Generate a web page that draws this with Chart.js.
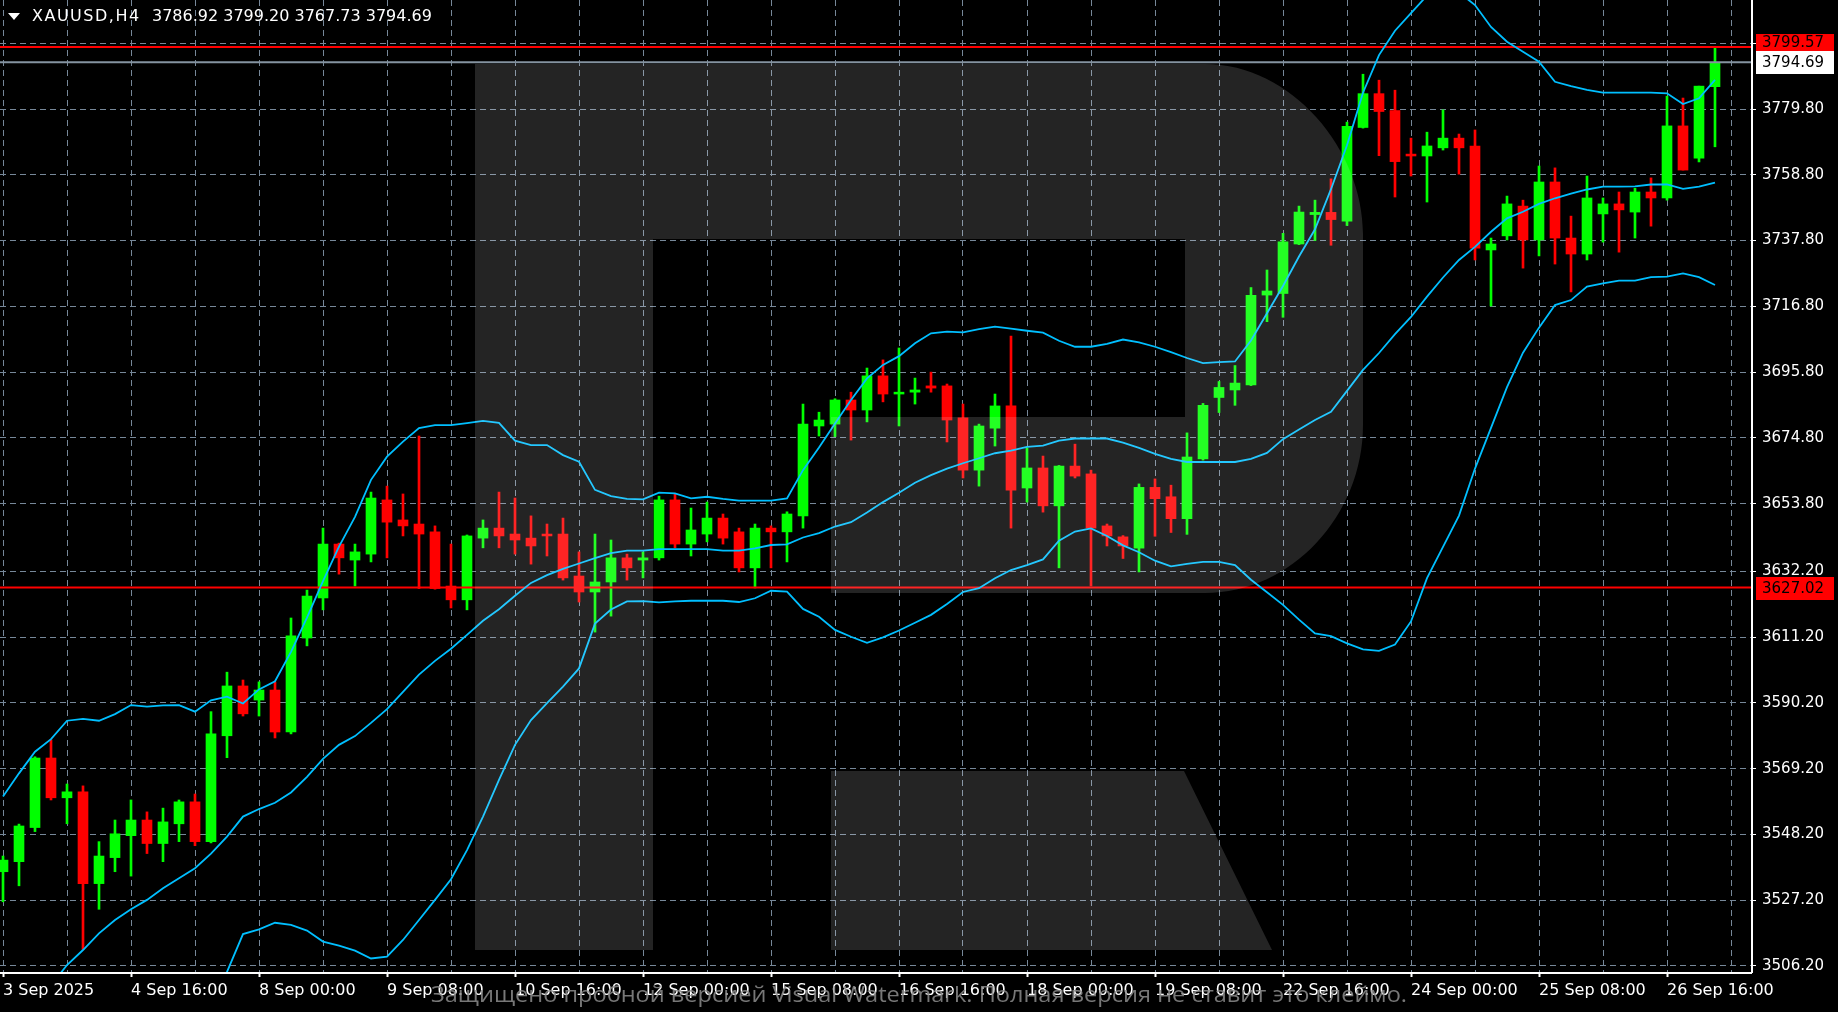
<!DOCTYPE html>
<html>
<head>
<meta charset="utf-8">
<title>XAUUSD,H4</title>
<script src="https://cdn.jsdelivr.net/npm/chart.js@4.4.1/dist/chart.umd.min.js"></script>
<style>
  html, body { margin: 0; padding: 0; background: #000; overflow: hidden; }
  #chart { display: block; }
</style>
</head>
<body>
<canvas id="chart" width="1838" height="1012"></canvas>
<script>
// ---- data (one H4 candle per index) ----
const opens = [
  3536.3, 3539.5, 3550.4, 3572.6, 3559.9, 3561.8, 3532.5, 3540.8, 3547.8, 3552.8,
  3545.3, 3551.6, 3558.6, 3545.9, 3579.7, 3595.6, 3591.1, 3594.3, 3580.9, 3610.9,
  3623.7, 3640.9, 3635.8, 3637.7, 3655.0, 3648.6, 3647.3, 3644.8, 3627.5, 3623.1,
  3642.8, 3646.0, 3644.1, 3642.8, 3644.1, 3644.1, 3630.7, 3625.6, 3628.8, 3636.5,
  3635.8, 3636.5, 3655.0, 3640.9, 3644.1, 3649.2, 3644.8, 3633.3, 3646.0, 3644.8,
  3649.9, 3678.6, 3679.2, 3686.9, 3683.7, 3694.6, 3688.8, 3689.4, 3691.4, 3691.4,
  3681.2, 3664.5, 3677.9, 3685.0, 3658.8, 3665.2, 3653.1, 3665.8, 3663.3, 3646.7,
  3643.2, 3639.6, 3659.0, 3656.0, 3649.0, 3668.1, 3687.7, 3690.1, 3691.7, 3720.4,
  3720.9, 3736.7, 3746.1, 3746.8, 3744.0, 3773.9, 3784.7, 3779.3, 3765.4, 3764.8,
  3767.4, 3770.5, 3768.0, 3734.8, 3739.3, 3748.8, 3738.0, 3756.5, 3738.6, 3733.5,
  3746.3, 3749.5, 3746.9, 3753.3, 3751.4, 3774.4, 3764.1, 3786.92
];
const highs = [
  3541.3, 3551.5, 3573.0, 3578.4, 3564.3, 3563.7, 3545.9, 3552.8, 3559.2, 3555.4,
  3556.6, 3559.2, 3561.1, 3587.4, 3600.0, 3597.5, 3596.9, 3596.9, 3617.3, 3626.2,
  3646.0, 3641.2, 3640.9, 3657.5, 3659.4, 3656.9, 3675.4, 3646.7, 3640.9, 3643.8,
  3648.6, 3657.5, 3655.6, 3649.9, 3647.3, 3649.2, 3638.4, 3644.1, 3642.2, 3637.7,
  3638.4, 3656.2, 3656.9, 3652.4, 3654.3, 3650.5, 3646.0, 3647.3, 3646.7, 3651.2,
  3685.6, 3683.0, 3687.3, 3689.4, 3697.1, 3699.7, 3703.5, 3693.9, 3695.8, 3692.0,
  3685.6, 3679.2, 3688.8, 3707.3, 3671.6, 3669.0, 3666.0, 3672.8, 3664.5, 3647.3,
  3643.6, 3660.1, 3661.7, 3659.7, 3676.4, 3685.8, 3692.8, 3697.9, 3722.8, 3728.4,
  3740.1, 3748.8, 3750.7, 3757.5, 3775.6, 3790.9, 3789.0, 3785.8, 3770.5, 3772.4,
  3779.5, 3771.8, 3773.1, 3738.6, 3752.0, 3750.7, 3761.6, 3761.0, 3745.6, 3758.4,
  3751.4, 3753.3, 3754.5, 3757.8, 3783.9, 3783.3, 3787.1, 3799.20
];
const lows = [
  3526.7, 3531.8, 3549.1, 3559.2, 3551.6, 3511.5, 3524.3, 3536.3, 3534.9, 3542.1,
  3539.5, 3545.9, 3544.6, 3545.5, 3572.7, 3586.0, 3586.0, 3579.0, 3580.3, 3608.4,
  3619.9, 3631.3, 3627.5, 3635.2, 3636.5, 3643.5, 3626.7, 3626.5, 3620.5, 3619.9,
  3639.7, 3639.7, 3637.7, 3634.5, 3637.1, 3629.4, 3622.4, 3612.8, 3617.9, 3629.4,
  3630.1, 3635.8, 3639.7, 3637.1, 3641.6, 3640.9, 3632.0, 3626.9, 3633.3, 3635.2,
  3646.0, 3675.4, 3675.2, 3674.1, 3679.9, 3686.3, 3678.6, 3685.6, 3689.4, 3673.5,
  3662.0, 3659.4, 3672.2, 3646.0, 3654.3, 3651.1, 3633.3, 3662.0, 3627.5, 3640.3,
  3636.3, 3632.0, 3643.4, 3644.6, 3644.0, 3667.7, 3682.9, 3685.2, 3691.5, 3711.9,
  3713.3, 3736.5, 3737.8, 3736.3, 3742.6, 3773.7, 3764.9, 3751.7, 3758.4, 3750.1,
  3766.7, 3759.0, 3731.6, 3716.9, 3738.0, 3729.0, 3732.9, 3730.3, 3721.4, 3731.6,
  3737.3, 3734.1, 3738.6, 3742.4, 3750.7, 3760.3, 3762.9, 3767.73
];
const closes = [
  3540.0, 3550.9, 3572.6, 3559.9, 3561.8, 3532.5, 3541.3, 3548.4, 3552.8, 3545.3,
  3552.2, 3558.6, 3545.9, 3580.3, 3595.6, 3586.7, 3594.3, 3580.9, 3611.6, 3624.3,
  3640.9, 3636.5, 3638.4, 3655.6, 3647.9, 3646.7, 3644.1, 3626.7, 3623.1, 3643.5,
  3646.0, 3643.5, 3642.2, 3640.3, 3643.5, 3630.1, 3625.6, 3628.8, 3636.5, 3633.3,
  3636.5, 3655.0, 3640.9, 3645.4, 3649.2, 3642.8, 3633.3, 3646.0, 3644.8, 3650.5,
  3679.2, 3680.5, 3686.9, 3683.7, 3694.6, 3688.8, 3689.4, 3690.1, 3690.7, 3680.5,
  3664.5, 3678.6, 3685.0, 3658.1, 3665.2, 3653.1, 3665.8, 3662.6, 3646.0, 3643.5,
  3640.3, 3659.0, 3655.4, 3649.0, 3668.7, 3685.2, 3690.9, 3692.3, 3720.3, 3721.7,
  3737.4, 3746.9, 3746.8, 3744.5, 3774.3, 3784.7, 3779.0, 3763.0, 3764.8, 3768.0,
  3770.5, 3767.4, 3735.4, 3736.7, 3749.5, 3738.0, 3756.5, 3738.6, 3733.5, 3751.4,
  3749.5, 3747.6, 3753.3, 3751.4, 3774.4, 3760.3, 3787.1, 3794.69
];

// Bollinger bands, read at each candle (null = off the picture)
const bbUpper = [
  3560.3, 3567.7, 3574.6, 3578.6, 3584.5, 3585.1, 3584.5, 3586.6, 3589.5, 3589.0,
  3589.4, 3589.5, 3587.4, 3591.0, 3592.2, 3590.0, 3594.5, 3597.1, 3606.5, 3617.4,
  3629.1, 3640.1, 3649.6, 3661.4, 3668.8, 3673.6, 3677.9, 3678.9, 3678.9, 3679.5,
  3680.2, 3679.6, 3673.9, 3672.5, 3672.5, 3669.3, 3667.2, 3658.2, 3656.2, 3655.3,
  3655.2, 3657.3, 3657.1, 3655.5, 3656.0, 3655.3, 3654.8, 3654.8, 3654.8, 3655.5,
  3664.5, 3671.7, 3679.4, 3686.9, 3693.8, 3698.1, 3700.9, 3705.0, 3708.2, 3708.7,
  3708.5, 3709.5, 3710.3, 3709.7, 3709.0, 3708.4, 3705.8, 3703.9, 3703.9, 3704.8,
  3706.2, 3705.3, 3703.9, 3702.2, 3700.3, 3698.7, 3699.0, 3699.2, 3705.9, 3714.6,
  3723.3, 3732.7, 3741.4, 3754.2, 3768.2, 3785.0, 3797.0, 3804.8, 3810.4, 3816.0,
  3818.0, 3817.0, 3813.0, 3806.0, 3801.3, 3798.1, 3794.9, 3788.5, 3787.1, 3785.9,
  3785.0, 3785.0, 3785.0, 3785.0, 3784.8, 3781.4, 3783.2, 3789.1
];
const bbMiddle = [
  null, null, null, 3500.0, 3506.5, 3511.3, 3516.6, 3520.9, 3524.3, 3527.3,
  3531.0, 3534.2, 3537.4, 3542.1, 3547.5, 3553.9, 3556.3, 3558.3, 3561.6, 3566.6,
  3572.3, 3576.8, 3579.6, 3583.8, 3588.2, 3593.7, 3599.2, 3603.6, 3607.5, 3611.9,
  3616.4, 3620.1, 3624.4, 3628.5, 3631.0, 3633.0, 3634.7, 3636.4, 3638.0, 3638.8,
  3638.8, 3639.3, 3639.3, 3639.3, 3639.3, 3638.8, 3638.8, 3639.5, 3640.6, 3640.8,
  3643.0, 3644.4, 3646.5, 3647.9, 3651.0, 3654.3, 3657.3, 3660.5, 3662.9, 3665.0,
  3666.7, 3668.3, 3669.9, 3670.7, 3671.9, 3672.3, 3673.9, 3674.6, 3674.6, 3674.6,
  3673.3, 3671.6, 3669.7, 3668.1, 3667.1, 3667.1, 3667.1, 3667.1, 3668.1, 3670.0,
  3674.4, 3677.5, 3680.5, 3683.1, 3689.8, 3696.5, 3701.9, 3707.9, 3713.4, 3719.9,
  3726.0, 3731.6, 3735.8, 3740.6, 3744.9, 3747.0, 3749.5, 3751.3, 3752.8, 3754.1,
  3755.0, 3755.0, 3755.1, 3755.7, 3755.7, 3754.3, 3755.0, 3756.3
];
const bbLower = [
  null, null, null, null, null, null, null, null, null, null,
  null, null, null, 3495.0, 3504.3, 3516.4, 3517.9, 3520.0, 3519.3, 3517.5,
  3514.0, 3512.7, 3511.1, 3508.6, 3509.2, 3514.5, 3520.9, 3527.3, 3533.9, 3543.2,
  3553.9, 3565.6, 3576.8, 3584.7, 3590.1, 3595.4, 3601.2, 3615.5, 3620.0, 3622.6,
  3622.7, 3622.3, 3622.6, 3622.8, 3622.8, 3622.8, 3622.4, 3623.6, 3626.0, 3625.7,
  3620.2, 3617.7, 3613.5, 3611.3, 3609.4, 3611.1, 3613.3, 3615.8, 3618.3, 3621.8,
  3625.6, 3626.8, 3630.0, 3632.6, 3634.2, 3636.0, 3642.0, 3644.9, 3645.9, 3643.5,
  3640.5, 3638.3, 3635.6, 3633.8, 3634.6, 3635.2, 3635.2, 3634.2, 3629.5, 3625.5,
  3621.5, 3616.8, 3612.4, 3611.5, 3609.2, 3607.3, 3606.8, 3608.8, 3616.2, 3630.0,
  3640.0, 3650.0, 3665.0, 3678.0, 3691.0, 3702.0, 3710.0, 3717.2, 3718.8, 3723.1,
  3724.1, 3725.0, 3725.0, 3726.1, 3726.3, 3727.3, 3726.1, 3723.6
];

// time labels, one every 8 candles starting at candle 0
const timeLabels = [
  '3 Sep 2025', '4 Sep 16:00', '8 Sep 00:00', '9 Sep 08:00', '10 Sep 16:00',
  '12 Sep 00:00', '15 Sep 08:00', '16 Sep 16:00', '18 Sep 00:00', '19 Sep 08:00',
  '22 Sep 16:00', '24 Sep 00:00', '25 Sep 08:00', '26 Sep 16:00'
];
const priceTicks = [
  3506.2, 3527.2, 3548.2, 3569.2, 3590.2, 3611.2, 3632.2, 3653.8,
  3674.8, 3695.8, 3716.8, 3737.8, 3758.8, 3779.8, 3800.8
];
const resistanceLevel = 3799.57;
const supportLevel = 3627.02;
const bidLevel = 3794.69;
const headerText = 'XAUUSD,H4';
const headerOHLC = '3786.92 3799.20 3767.73 3794.69';
const watermarkText = 'Защищено пробной версией Visual Watermark. Полная версия не ставит это клеймо.';

// ---- view ----
const X_MIN = -0.1875;
const X_MAX = 109.25;
const Y_MIN = 3504.28;
const Y_MAX = 3814.6;

const UP = '#00ff00';
const DOWN = '#ff0000';
const BAND = '#00bfff';
const GRID = '#778899';
const FONT = 'DejaVu Sans';

const candleColors = closes.map((c, i) => (c >= opens[i] ? UP : DOWN));
const toPoints = (arr) => arr.map((v, i) => ({ x: i, y: v })).filter((p) => p.y !== null);
const levelLine = (y) => [{ x: X_MIN, y }, { x: X_MAX, y }];
const gridTicks = [];
for (let i = 0; i <= 108; i += 4) gridTicks.push(i);

function lineSet(label, data, color, width) {
  return {
    type: 'line', label, data, borderColor: color, borderWidth: width,
    pointRadius: 0, tension: 0, fill: false, order: 0, spanGaps: false
  };
}

const bgPlugin = {
  id: 'bgPlugin',
  beforeDraw(chart) {
    const { ctx, width, height } = chart;
    ctx.save();
    ctx.fillStyle = '#000';
    ctx.fillRect(0, 0, width, height);
    ctx.restore();
  }
};

// translucent "R" logo over the plot, then axis lines, labels, header
const overlayPlugin = {
  id: 'overlayPlugin',
  afterDatasetsDraw(chart) {
    const { ctx, chartArea: ca } = chart;
    const X = (v) => ca.left + v;
    const Y = (v) => ca.top + v;
    ctx.save();
    ctx.fillStyle = 'rgba(255,255,255,0.14)';
    ctx.beginPath();
    ctx.moveTo(X(475), Y(64));
    ctx.lineTo(X(1205), Y(64));
    ctx.bezierCurveTo(X(1292), Y(64), X(1363), Y(150), X(1363), Y(234));
    ctx.lineTo(X(1363), Y(425));
    ctx.bezierCurveTo(X(1363), Y(515), X(1292), Y(593), X(1205), Y(593));
    ctx.lineTo(X(831), Y(593));
    ctx.lineTo(X(831), Y(417));
    ctx.lineTo(X(1185), Y(417));
    ctx.lineTo(X(1185), Y(239));
    ctx.lineTo(X(653), Y(239));
    ctx.lineTo(X(653), Y(950));
    ctx.lineTo(X(475), Y(950));
    ctx.closePath();
    ctx.moveTo(X(831), Y(771));
    ctx.lineTo(X(1184), Y(771));
    ctx.lineTo(X(1272), Y(950));
    ctx.lineTo(X(831), Y(950));
    ctx.closePath();
    ctx.fill();
    ctx.restore();
  },
  afterDraw(chart) {
    const { ctx, chartArea: ca, scales } = chart;
    ctx.save();
    // axis lines
    ctx.strokeStyle = '#ffffff';
    ctx.lineWidth = 2;
    ctx.beginPath();
    ctx.moveTo(ca.left, ca.bottom + 1);
    ctx.lineTo(ca.right + 1, ca.bottom + 1);
    ctx.moveTo(ca.right + 1, ca.top);
    ctx.lineTo(ca.right + 1, ca.bottom + 1);
    ctx.stroke();

    // price boxes on the right axis; the top red one is pushed up above the bid box
    ctx.font = `15px "${FONT}"`;
    ctx.textBaseline = 'middle';
    ctx.textAlign = 'left';
    const drawBox = (level, top, h, bg, fg) => {
      ctx.fillStyle = bg;
      ctx.fillRect(ca.right + 5, top, 78, h);
      ctx.fillStyle = fg;
      ctx.fillText(level.toFixed(2), ca.right + 11, top + h / 2 + 1);
    };
    const yBid = scales.y.getPixelForValue(bidLevel);
    const bidTop = Math.round(yBid - 11);
    drawBox(resistanceLevel, bidTop - 17, 17, '#ff0000', '#000000');
    drawBox(bidLevel, bidTop, 23, '#ffffff', '#000000');
    const ySup = scales.y.getPixelForValue(supportLevel);
    drawBox(supportLevel, Math.round(ySup - 11), 23, '#ff0000', '#000000');

    // header
    ctx.fillStyle = '#ffffff';
    ctx.beginPath();
    ctx.moveTo(8, 13);
    ctx.lineTo(20, 13);
    ctx.lineTo(14, 20);
    ctx.closePath();
    ctx.fill();
    ctx.font = `16px "${FONT}"`;
    ctx.letterSpacing = '1.5px';
    ctx.fillText(headerText, 32, 17);
    ctx.letterSpacing = '0px';
    ctx.fillText(headerOHLC, 152, 17);

    // trial watermark text across the time axis
    ctx.font = '22px "Open Sans"';
    const w = ctx.measureText(watermarkText).width;
    ctx.translate(431, 996);
    ctx.scale(976 / w, 1);
    ctx.fillStyle = 'rgba(140,140,140,0.85)';
    ctx.fillText(watermarkText, 0, 0);
    ctx.restore();
  }
};

new Chart(document.getElementById('chart'), {
  type: 'bar',
  data: {
    datasets: [
      lineSet('BB upper', toPoints(bbUpper), BAND, 1.8),
      lineSet('BB middle', toPoints(bbMiddle), BAND, 1.8),
      lineSet('BB lower', toPoints(bbLower), BAND, 1.8),
      lineSet('Resistance', levelLine(resistanceLevel), '#ff0000', 2),
      lineSet('Support', levelLine(supportLevel), '#ff0000', 2),
      lineSet('Bid', levelLine(bidLevel), '#8593a0', 2),
      {
        type: 'bar', label: 'Body',
        data: opens.map((o, i) => ({ x: i, y: [o, closes[i]] })),
        backgroundColor: candleColors, borderWidth: 0,
        barThickness: 10, maxBarThickness: 10, minBarLength: 1,
        grouped: false, order: 1
      },
      {
        type: 'bar', label: 'Wick',
        data: lows.map((l, i) => ({ x: i, y: [l, highs[i]] })),
        backgroundColor: candleColors, borderWidth: 0,
        barThickness: 2, maxBarThickness: 2,
        grouped: false, order: 2
      }
    ]
  },
  options: {
    responsive: false,
    animation: false,
    devicePixelRatio: 1,
    events: [],
    layout: { padding: 0 },
    plugins: { legend: { display: false }, tooltip: { enabled: false } },
    scales: {
      x: {
        type: 'linear', min: X_MIN, max: X_MAX, offset: false,
        afterBuildTicks: (s) => { s.ticks = gridTicks.map((v) => ({ value: v })); },
        afterFit: (s) => { s.height = 40; s.paddingLeft = 0; s.paddingRight = 0; },
        grid: {
          color: GRID, lineWidth: 1, offset: false, tickLength: 5, tickWidth: 2,
          borderDash: [6, 4],
          tickColor: (c) => (c.tick && c.tick.value % 8 === 0 ? '#ffffff' : 'rgba(0,0,0,0)')
        },
        border: { display: false, dash: [6, 4] },
        ticks: {
          color: '#ffffff', font: { family: FONT, size: 16 }, align: 'start',
          padding: 4, autoSkip: false, maxRotation: 0, minRotation: 0,
          callback: (v) => (v % 8 === 0 ? (timeLabels[v / 8] || '') : '')
        }
      },
      y: {
        type: 'linear', position: 'right', min: Y_MIN, max: Y_MAX,
        afterBuildTicks: (s) => { s.ticks = priceTicks.map((v) => ({ value: v })); },
        afterFit: (s) => { s.width = 87; s.paddingTop = 0; s.paddingBottom = 0; },
        grid: { color: GRID, lineWidth: 1, tickLength: 5, tickColor: '#ffffff', tickWidth: 1, borderDash: [6, 4] },
        border: { display: false, dash: [6, 4] },
        ticks: {
          color: '#ffffff', font: { family: FONT, size: 15 }, padding: 6,
          autoSkip: false, callback: (v) => Number(v).toFixed(2)
        }
      }
    }
  },
  plugins: [bgPlugin, overlayPlugin]
});
</script>
</body>
</html>
